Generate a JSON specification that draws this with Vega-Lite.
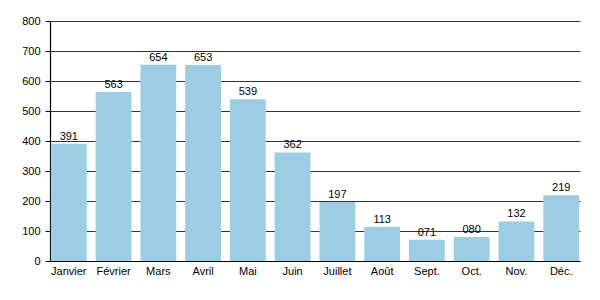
{
  "$schema": "https://vega.github.io/schema/vega-lite/v6.json",
  "autosize": "none",
  "width": 530,
  "height": 240,
  "padding": {"left": 50, "top": 21, "right": 20, "bottom": 39},
  "background": "white",
  "config": {"view": {"stroke": null}, "font": "Liberation Sans"},
  "data": {"values": [
    {"mois": "Janvier", "valeur": 391},
    {"mois": "Février", "valeur": 563},
    {"mois": "Mars", "valeur": 654},
    {"mois": "Avril", "valeur": 653},
    {"mois": "Mai", "valeur": 539},
    {"mois": "Juin", "valeur": 362},
    {"mois": "Juillet", "valeur": 197},
    {"mois": "Août", "valeur": 113},
    {"mois": "Sept.", "valeur": 71},
    {"mois": "Oct.", "valeur": 80},
    {"mois": "Nov.", "valeur": 132},
    {"mois": "Déc.", "valeur": 219}
  ]},
  "encoding": {
    "x": {"field": "mois", "type": "nominal", "sort": null,
      "scale": {"paddingInner": 0.2, "paddingOuter": 0.02},
      "axis": {"title": null, "labelAngle": 0, "ticks": false, "labelPadding": 4, "labelFontSize": 11, "labelColor": "#000", "domainColor": "#000", "domainWidth": 1.2}},
    "y": {"field": "valeur", "type": "quantitative",
      "scale": {"domain": [0, 800], "nice": false},
      "axis": {"title": null, "values": [0,100,200,300,400,500,600,700,800], "labelOverlap": false, "grid": true, "gridColor": "#333", "gridOpacity": 1, "tickColor": "#000", "tickSize": 5, "labelPadding": 5, "labelFontSize": 11, "labelColor": "#000", "domainColor": "#000", "domainWidth": 1.2}}
  },
  "layer": [
    {"mark": {"type": "bar", "color": "#9ccde4"}},
    {"mark": {"type": "text", "dy": -7, "fontSize": 11, "color": "#000"},
     "encoding": {"text": {"field": "valeur", "type": "quantitative", "format": "03d"}}}
  ]
}
